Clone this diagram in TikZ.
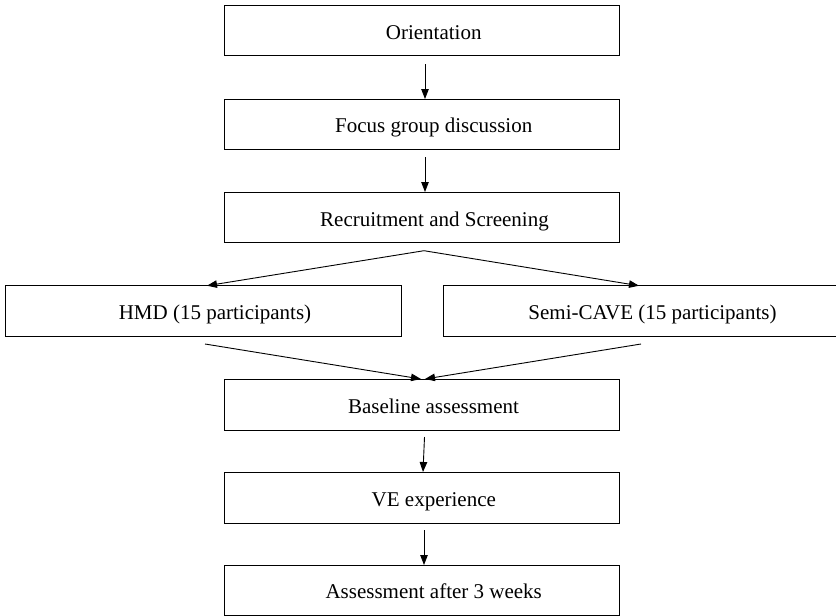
\documentclass[tikz,border=0pt]{standalone}
\usepackage{fontspec}
\setmainfont{Liberation Serif}
\usetikzlibrary{arrows.meta}
\begin{document}
\begin{tikzpicture}[x=1pt,y=-1pt,
  box/.style={draw=black,line width=1pt,inner sep=0pt,outer sep=0pt,fill=white},
  txt/.style={anchor=base,inner sep=0pt,font=\fontsize{21}{25}\selectfont},
  arr/.style={line width=0.9pt,-{Triangle[length=10pt,width=7.5pt]}}]
\useasboundingbox (0,0) rectangle (836,616);
\clip (0,0) rectangle (836,616);
% boxes
\node[box,minimum width=395.5pt,minimum height=50pt] (O) at (421.75,30.7) {};
\node[box,minimum width=395.5pt,minimum height=50pt] (F) at (421.75,124) {};
\node[box,minimum width=395.5pt,minimum height=50.5pt] (R) at (421.75,217.25) {};
\node[box,minimum width=395.3pt,minimum height=51pt] (H) at (203.35,311.2) {};
\node[box,minimum width=419pt,minimum height=51pt] (S) at (652.5,311.2) {};
\node[box,minimum width=395.5pt,minimum height=51pt] (B) at (421.75,404.5) {};
\node[box,minimum width=395.5pt,minimum height=51pt] (V) at (421.75,497.5) {};
\node[box,minimum width=395.5pt,minimum height=50pt] (A) at (421.75,590) {};
% texts
\node[txt] (Ot) at (433.7,39.3) {Orientation};
\node[txt] (Ft) at (433.7,132.3) {Focus group discussion};
\node[txt] (Rt) at (434.5,226) {Recruitment and Screening};
\node[txt] (Ht) at (215,319.6) {HMD (15 participants)};
\node[txt] (St) at (652.5,319.6) {Semi-CAVE (15 participants)};
\node[txt] (Bt) at (433.5,413) {Baseline assessment};
\node[txt] (Vt) at (433.8,506) {VE experience};
\node[txt] (At) at (433.7,598.5) {Assessment after 3 weeks};
% connectors
\coordinate (o1) at (425,64);
\draw[arr] (o1) -- (F.north -| o1);
\coordinate (f1) at (425,157);
\draw[arr] (f1) -- (R.north -| f1);
\coordinate (rs) at (424,250.7);
\coordinate (hin) at (207,0);
\coordinate (sin) at (639,0);
\draw[arr] (rs) -- (H.north -| hin);
\draw[arr] (rs) -- (S.north -| sin);
\coordinate (h1) at (205,344);
\coordinate (s1) at (641,344);
\coordinate (bl) at (421,0);
\coordinate (br) at (425,0);
\draw[arr] (h1) -- (B.north -| bl);
\draw[arr] (s1) -- (B.north -| br);
\coordinate (b1) at (424.5,437);
\coordinate (vin) at (423,0);
\draw[arr] (b1) -- (V.north -| vin);
\coordinate (v1) at (424,530);
\draw[arr] (v1) -- (A.north -| v1);
\end{tikzpicture}
\end{document}
